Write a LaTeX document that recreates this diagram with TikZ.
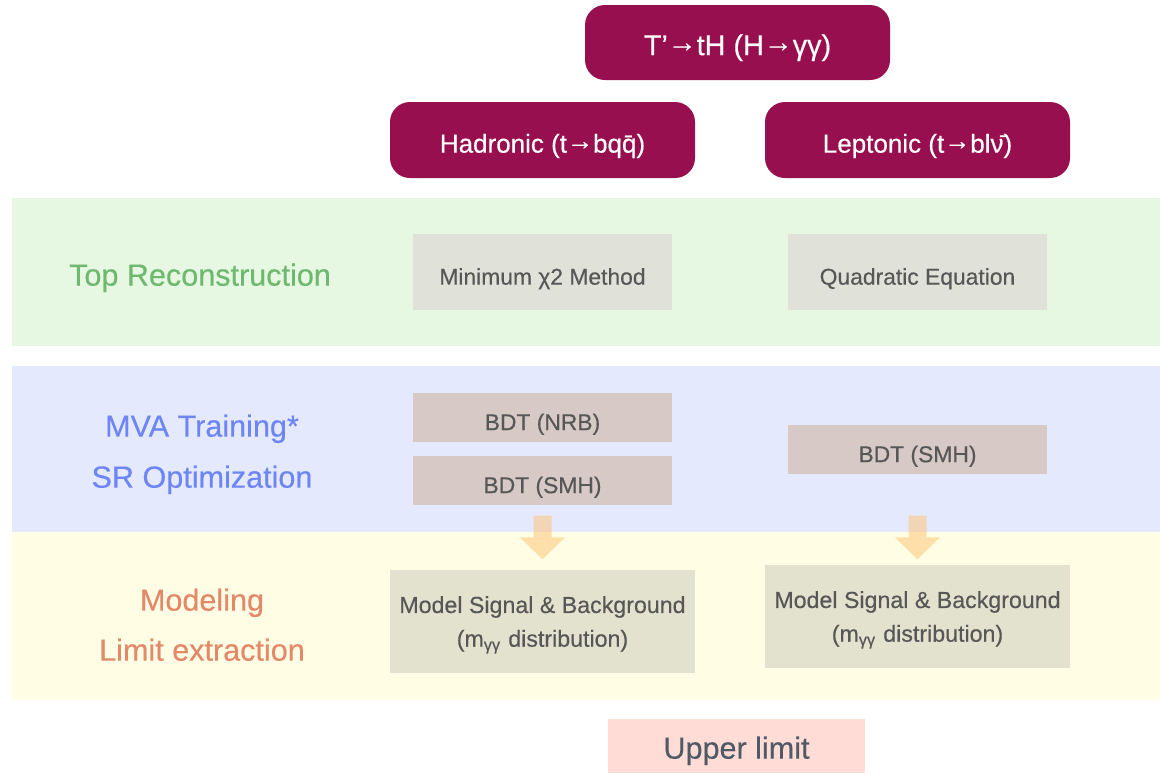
\documentclass[tikz,border=0pt]{standalone}
\usepackage{fontspec}
\setmainfont{Liberation Sans}[FakeBold=0.4]
\usepackage{xcolor}
\usepackage{tikz}
\usetikzlibrary{arrows.meta}

\definecolor{maroon}{HTML}{970F4F}
\definecolor{bandgreen}{HTML}{E6F8E1}
\definecolor{bandblue}{HTML}{E5E9FD}
\definecolor{bandyellow}{HTML}{FFFEE5}
\definecolor{stepgray}{HTML}{E0E2D9}
\definecolor{bdtgray}{HTML}{D6C9C6}
\definecolor{modelgray}{HTML}{E3E2CF}
\definecolor{boxtext}{HTML}{575757}
\definecolor{labgreen}{HTML}{6FB86F}
\definecolor{labblue}{HTML}{6E86F5}
\definecolor{laborange}{HTML}{E3896A}
\definecolor{limitpink}{HTML}{FFDCD6}
\definecolor{limittext}{HTML}{505A66}
\definecolor{flowarrow}{HTML}{FFC26F}

\newcommand{\rarrow}{\raisebox{0.12em}{→}}

\begin{document}
\begin{tikzpicture}[
        every node/.style={text height=0.72em, text depth=0pt},
        channel/.style={fill=maroon, text=white, rounded corners=0.2cm, inner sep=0,
            minimum width=3.05cm, minimum height=0.76cm, font=\fontsize{7.4}{8.8}\selectfont},
        stepbox/.style={fill=stepgray, text=boxtext, inner sep=0,
            minimum width=2.59cm, minimum height=0.76cm, font=\fontsize{6.5}{7.8}\selectfont},
        bdtbox/.style={stepbox, fill=bdtgray, minimum height=0.49cm},
        modelbox/.style={stepbox, fill=modelgray, minimum width=3.05cm, minimum height=1.03cm,
            align=center, text height=14.35pt, font=\fontsize{6.6}{9.6}\selectfont},
        rowlabel/.style={font=\fontsize{8.7}{10}\selectfont},
        flow/.style={draw=flowarrow, line width=0.18cm,
            -{Triangle[width=0.44cm, length=0.22cm]}}
    ]
        \useasboundingbox (0, 0) rectangle (11.6, -7.73);

        % bands
        \fill[bandgreen] (0.12, -1.98) rectangle (11.6, -3.46);
        \fill[bandblue] (0.12, -3.66) rectangle (11.6, -5.32);
        \fill[bandyellow] (0.12, -5.32) rectangle (11.6, -7.00);

        \node[channel, minimum height=0.75cm, font=\fontsize{8.2}{9.8}\selectfont]
            (signal) at (7.375, -0.425) {T’\rarrow tH (H\rarrow γγ)};
        \node[channel] (hadronic) at (5.425, -1.40) {Hadronic (t\rarrow bq\={q})};
        \node[channel] (leptonic) at (9.175, -1.40) {Leptonic (t\rarrow bl\={ν})};

        \node[rowlabel, text=labgreen] (toplab) at (2.0, -2.73) {Top Reconstruction};
        \node[rowlabel, text=labblue] (mvalab) at (2.02, -4.24) {MVA Training*};
        \node[rowlabel, text=labblue] (srlab) at (2.02, -4.75) {SR Optimization};
        \node[rowlabel, text=laborange] (modlab) at (2.02, -5.98) {Modeling};
        \node[rowlabel, text=laborange] (limlab) at (2.02, -6.48) {Limit extraction};

        \node[stepbox] (chisq) at (5.425, -2.72) {Minimum χ2 Method};
        \node[stepbox] (quadratic) at (9.175, -2.72) {Quadratic Equation};

        \node[bdtbox] (bdtnrb) at (5.425, -4.175) {BDT (NRB)};
        \node[bdtbox] (bdtsmhL) at (5.425, -4.805) {BDT (SMH)};
        \node[bdtbox] (bdtsmhR) at (9.175, -4.495) {BDT (SMH)};

        \node[modelbox] (modelL) at (5.425, -6.215)
            {Model Signal \& Background\\(m\textsubscript{γγ} distribution)};
        \node[modelbox] (modelR) at (9.175, -6.165)
            {Model Signal \& Background\\(m\textsubscript{γγ} distribution)};

        \begin{scope}[transparency group, opacity=0.5]
            \draw[flow] ([yshift=-0.10cm]bdtsmhL.south) -- ([yshift=0.10cm]modelL.north);
            \draw[flow] ([yshift=-0.41cm]bdtsmhR.south) -- ([yshift=0.05cm]modelR.north);
        \end{scope}

        \node[fill=limitpink, text=limittext, inner sep=0, minimum width=2.57cm,
            minimum height=0.54cm, font=\fontsize{8.7}{10}\selectfont]
            (upper) at (7.365, -7.46) {Upper limit};
    \end{tikzpicture}
\end{document}
